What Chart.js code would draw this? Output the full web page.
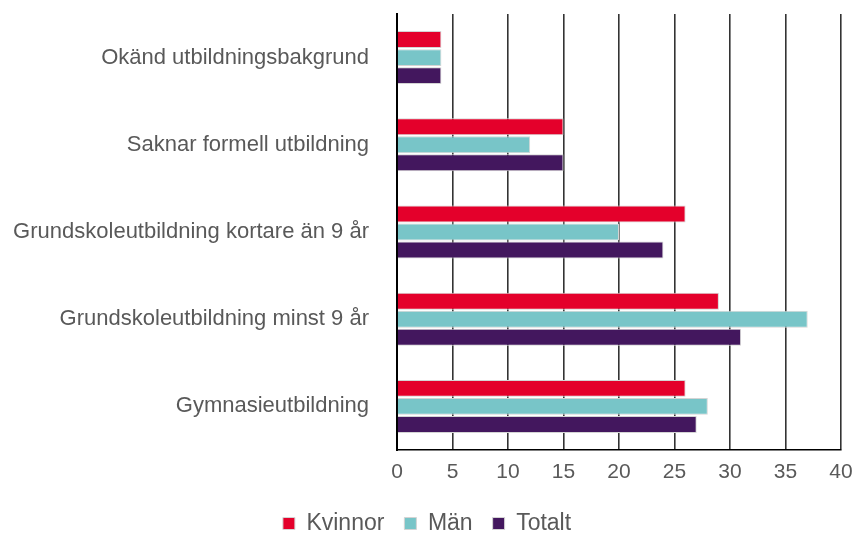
<!DOCTYPE html>
<html>
<head>
<meta charset="utf-8">
<script src="https://cdn.jsdelivr.net/npm/chart.js"></script>
<style>
  html, body { margin: 0; padding: 0; background: #fff; }
  #wrap { width: 854px; height: 533px; }
</style>
</head>
<body>
<div id="wrap"><canvas id="chart" width="854" height="533"></canvas></div>
<script>
// ==================== Data ====================
const categories = [
    "Okänd utbildningsbakgrund",
    "Saknar formell utbildning",
    "Grundskoleutbildning kortare än 9 år",
    "Grundskoleutbildning minst 9 år",
    "Gymnasieutbildning"
];
const kvinnor = [4, 15, 26, 29, 26];
const man = [4, 12, 20, 37, 28];
const totalt = [4, 15, 24, 31, 27];
const xTicks = [0, 5, 10, 15, 20, 25, 30, 35, 40];

const textColor = "#595959";
const font = "'Liberation Sans', Arial, sans-serif";

new Chart(document.getElementById("chart"), {
    type: "bar",
    data: {
        labels: categories,
        datasets: [
            { label: "Kvinnor", data: kvinnor, backgroundColor: "#e4002b", borderColor: "#d4d4d4", borderWidth: 1 },
            { label: "Män", data: man, backgroundColor: "#78c5c8", borderColor: "#d4d4d4", borderWidth: 1 },
            { label: "Totalt", data: totalt, backgroundColor: "#43175e", borderColor: "#d4d4d4", borderWidth: 1 }
        ]
    },
    options: {
        indexAxis: "y",
        responsive: false,
        animation: false,
        categoryPercentage: 0.62,
        barPercentage: 0.94,
        layout: { padding: { top: 14, right: 0, left: 0, bottom: -12 } },
        scales: {
            x: {
                min: 0,
                max: 40,
                afterBuildTicks: (scale) => { scale.ticks = xTicks.map(v => ({ value: v })); },
                afterFit: (scale) => {
                    scale.height = 42;
                    scale.paddingLeft = 0;
                    scale.paddingRight = 13;
                },
                grid: { color: "#333", lineWidth: 1.6, drawTicks: false },
                border: { color: "#000", width: 1.6 },
                ticks: { color: textColor, font: { family: font, size: 21 }, padding: 10 }
            },
            y: {
                grid: { display: false },
                border: { color: "#000", width: 2 },
                afterFit: (scale) => {
                    scale.width = 397;
                    scale.paddingTop = 0;
                    scale.paddingBottom = 0;
                },
                ticks: { color: textColor, font: { family: font, size: 22 }, padding: 20 }
            }
        },
        plugins: {
            legend: {
                position: "bottom",
                labels: {
                    color: textColor,
                    font: { family: font, size: 23 },
                    boxWidth: 12,
                    boxHeight: 12,
                    padding: 20
                }
            },
            tooltip: { enabled: false }
        }
    }
});
</script>
</body>
</html>
